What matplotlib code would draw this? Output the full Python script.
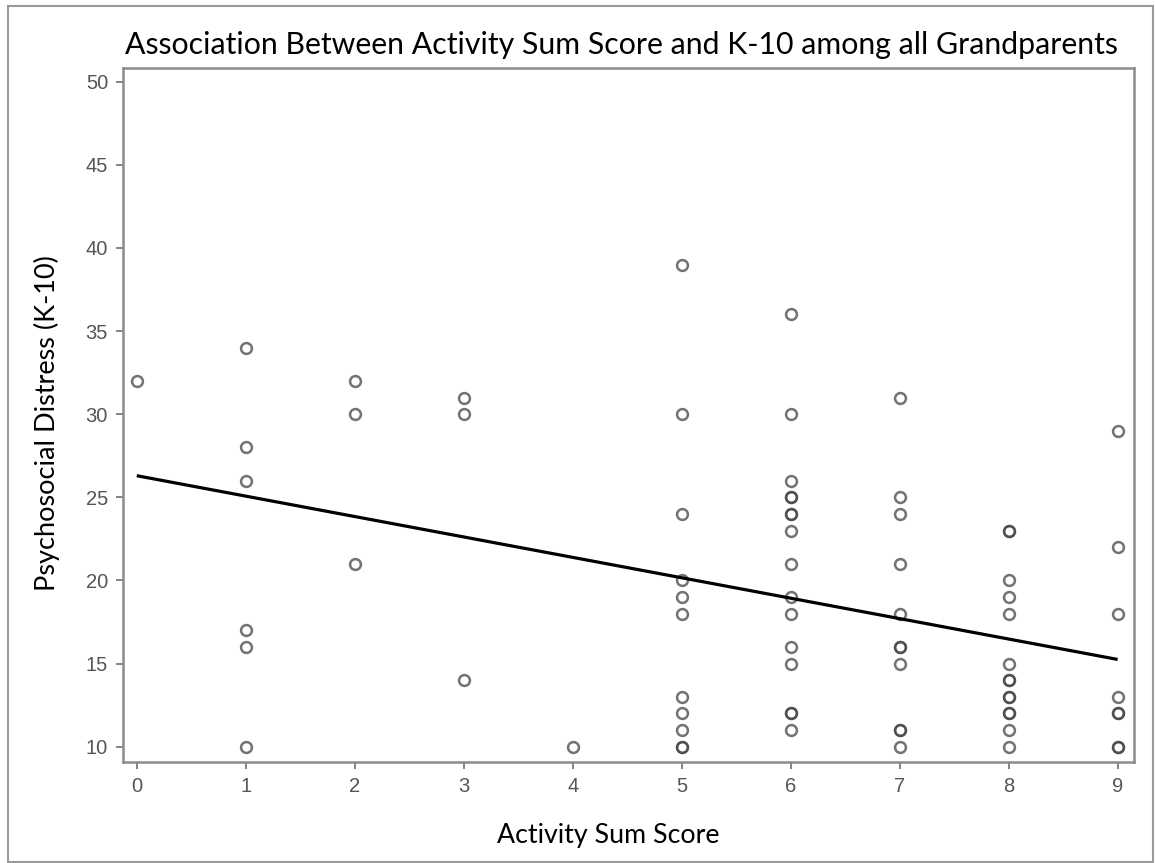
import matplotlib.pyplot as plt
from matplotlib.patches import Rectangle
import numpy as np

# activity sum score (x) and K-10 score (y); repeated pairs show as darker rings
activity = [0,
            1, 1, 1, 1, 1, 1,
            2, 2, 2,
            3, 3, 3,
            4,
            5, 5, 5, 5, 5, 5, 5, 5, 5, 5, 5,
            6, 6, 6, 6, 6, 6, 6, 6, 6, 6, 6, 6, 6, 6, 6, 6,
            7, 7, 7, 7, 7, 7, 7, 7, 7, 7, 7,
            8, 8, 8, 8, 8, 8, 8, 8, 8, 8, 8, 8, 8, 8,
            9, 9, 9, 9, 9, 9, 9, 9]
k10 = [32,
       34, 28, 26, 17, 16, 10,
       32, 30, 21,
       31, 30, 14,
       10,
       39, 30, 24, 20, 19, 18, 13, 12, 11, 10, 10,
       36, 30, 26, 25, 25, 24, 24, 23, 21, 19, 18, 16, 15, 12, 12, 11,
       31, 25, 24, 21, 18, 16, 16, 15, 11, 11, 10,
       23, 23, 20, 19, 18, 15, 14, 14, 13, 13, 12, 12, 11, 10,
       29, 22, 18, 13, 12, 12, 10, 10]

# fitted regression line, read at its two ends
fit_x = [0, 9]
fit_y = [26.3, 15.25]

title = "Association Between Activity Sum Score and K-10 among all Grandparents"
xlabel = "Activity Sum Score"
ylabel = "Psychosocial Distress (K-10)"

fig = plt.figure(figsize=(11.55, 8.63), dpi=100)
ax = fig.add_axes([0.1068, 0.117, 0.875, 0.8042])

ax.plot(activity, k10, linestyle="none", marker="o", markersize=7.8,
        markerfacecolor="none", markeredgecolor="#444444", markeredgewidth=1.8, alpha=0.75)
ax.plot(fit_x, fit_y, color="black", linewidth=2.3, solid_capstyle="butt")

ax.set_xlim(-0.123, 9.15)
ax.set_ylim(9.08, 50.82)
ax.set_xticks(np.arange(0, 10, 1))
ax.set_yticks(np.arange(10, 51, 5))

for s in ax.spines.values():
    s.set_color("#8c8c8c")
    s.set_linewidth(1.8)
ax.tick_params(direction="out", length=5, width=1.3, color="#7a7a7a",
               labelcolor="#555555", labelsize=14.5, pad=6)
for lab in ax.get_xticklabels() + ax.get_yticklabels():
    lab.set_family("Liberation Sans")

fig.text(0.538, 0.948, title, ha="center", va="center", fontsize=21.8, family="Lato", color="black")
fig.text(0.527, 0.032, xlabel, ha="center", va="center", fontsize=19.3, family="Lato", color="black")
fig.text(0.041, 0.51, ylabel, ha="center", va="center", rotation=90, fontsize=19.5, family="Lato", color="black")

# grey frame round the whole picture
fig.patches.append(Rectangle((0.007, 0.001), 0.991, 0.992, transform=fig.transFigure,
                             fill=False, edgecolor="#9a9a9a", linewidth=1.5))

fig.savefig("out.png", dpi=100)
